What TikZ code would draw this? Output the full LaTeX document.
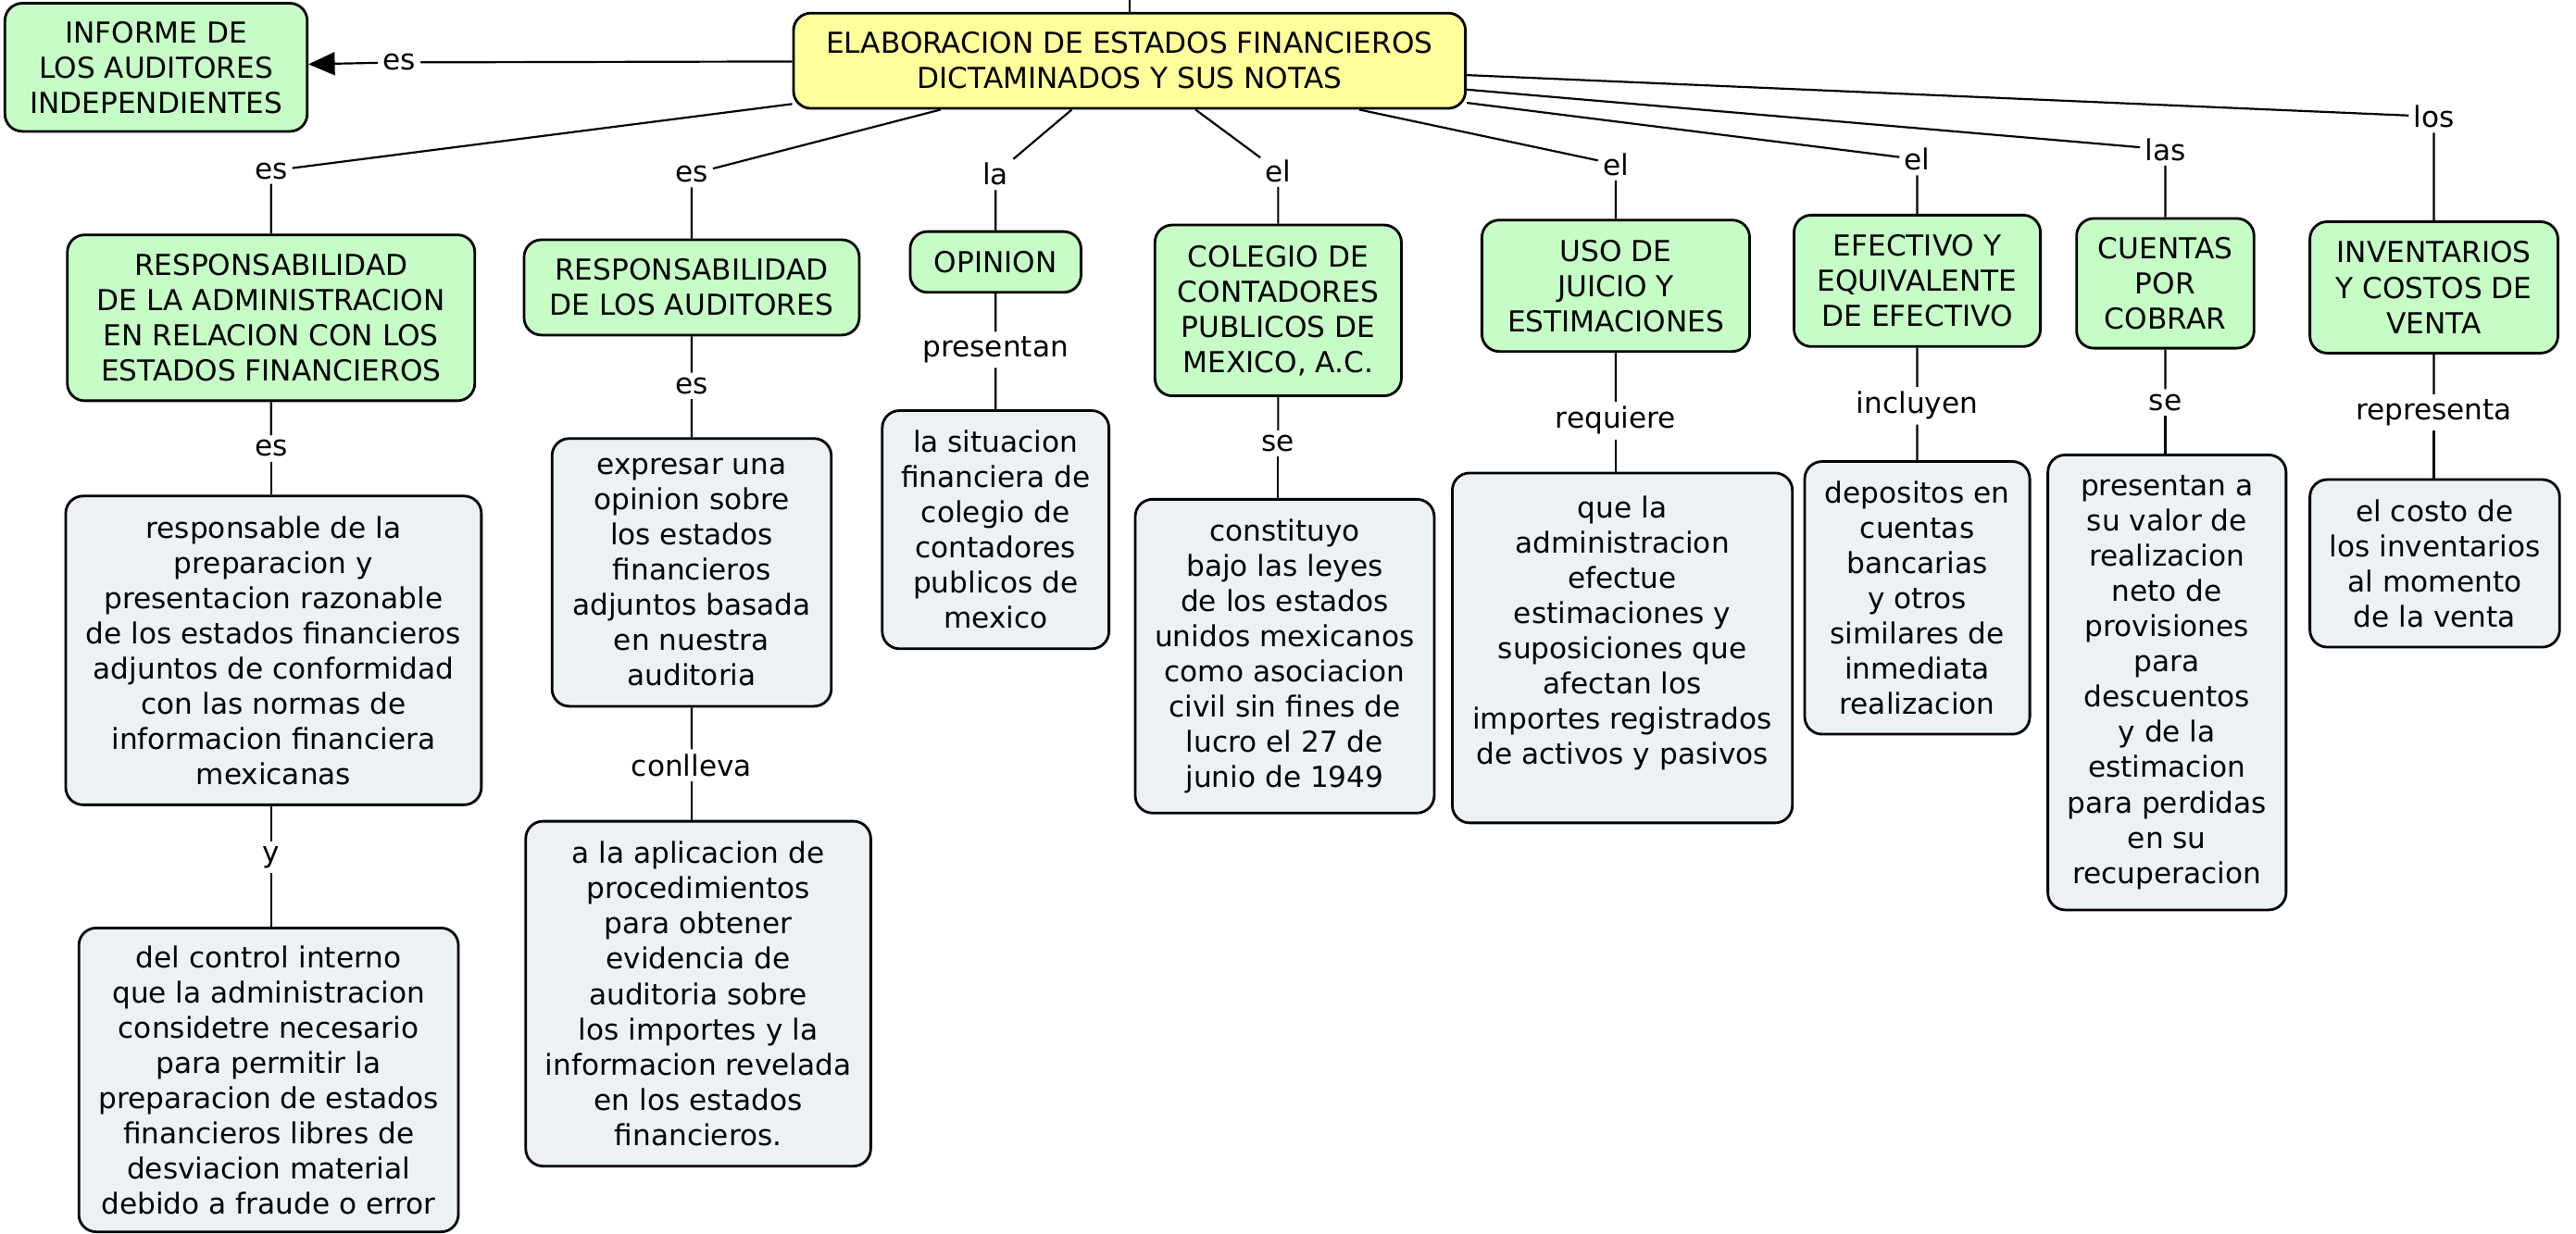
\documentclass[tikz,border=0pt]{standalone}
\usepackage{fontspec}
\setmainfont{DejaVu Sans}
\usepackage{xcolor}
\usetikzlibrary{arrows.meta,positioning}

\definecolor{cgreen}{RGB}{198,252,198}
\definecolor{cyellow}{RGB}{255,255,155}
\definecolor{cgray}{RGB}{236,241,244}

\begin{document}
\begin{tikzpicture}[
    concept/.style={rectangle, draw, line width=0.9pt, fill=cgreen, rounded corners=6pt, align=center, inner sep=2pt, font=\fontsize{10}{12.2}\selectfont},
    mainconcept/.style={concept, fill=cyellow},
    detail/.style={concept, fill=cgray},
    lbl/.style={fill=white, inner sep=1.5pt, font=\fontsize{10}{12}\selectfont},
    conn/.style={line width=0.7pt}
]

\useasboundingbox (0,0) rectangle (31.36,15.02);

% Main concept
\node[mainconcept, minimum width=8.18cm, minimum height=1.16cm] (main) at (13.75,14.28) {ELABORACION DE ESTADOS FINANCIEROS\\DICTAMINADOS Y SUS NOTAS};
\coordinate (top) at (13.75,15.4);
\node[concept, minimum width=3.68cm, minimum height=1.56cm] (informe) at (1.9,14.2) {INFORME DE\\LOS AUDITORES\\INDEPENDIENTES};
\node[lbl] (esI) at (4.86,14.26) {es};

% First level links
\node[lbl] (esA) at (3.3,12.94) {es};
\node[lbl] (esB) at (8.42,12.9) {es};
\node[lbl] (la) at (12.12,12.9) {la};
\node[lbl] (elA) at (15.56,12.94) {el};
\node[lbl] (elB) at (19.67,13.02) {el};
\node[lbl] (elC) at (23.34,13.08) {el};
\node[lbl] (las) at (26.36,13.2) {las};
\node[lbl] (los) at (29.63,13.6) {los};

% First level concepts
\node[concept, minimum width=4.96cm, minimum height=2.02cm] (respadm) at (3.3,11.15) {RESPONSABILIDAD\\DE LA ADMINISTRACION\\EN RELACION CON LOS\\ESTADOS FINANCIEROS};
\node[concept, minimum width=4.08cm, minimum height=1.16cm] (respaud) at (8.42,11.52) {RESPONSABILIDAD\\DE LOS AUDITORES};
\node[concept, minimum width=2.08cm, minimum height=0.74cm] (opinion) at (12.12,11.83) {OPINION};
\node[concept, minimum width=3.0cm, minimum height=2.08cm] (colegio) at (15.56,11.24) {COLEGIO DE\\CONTADORES\\PUBLICOS DE\\MEXICO, A.C.};
\node[concept, minimum width=3.26cm, minimum height=1.6cm] (uso) at (19.67,11.54) {USO DE\\JUICIO Y\\ESTIMACIONES};
\node[concept, minimum width=3.0cm, minimum height=1.6cm] (efectivo) at (23.34,11.6) {EFECTIVO Y\\EQUIVALENTE\\DE EFECTIVO};
\node[concept, minimum width=2.16cm, minimum height=1.58cm] (cuentas) at (26.36,11.57) {CUENTAS\\POR\\COBRAR};
\node[concept, minimum width=3.02cm, minimum height=1.6cm] (inventarios) at (29.63,11.52) {INVENTARIOS\\Y COSTOS DE\\VENTA};

% Second level links
\node[lbl] (esC) at (3.3,9.56) {es};
\node[lbl] (esD) at (8.42,10.32) {es};
\node[lbl] (presentan) at (12.12,10.76) {presentan};
\node[lbl] (seA) at (15.56,9.62) {se};
\node[lbl] (requiere) at (19.67,9.9) {requiere};
\node[lbl] (incluyen) at (23.34,10.08) {incluyen};
\node[lbl] (seB) at (26.36,10.12) {se};
\node[lbl] (representa) at (29.63,10.0) {representa};

% Second level details
\node[detail, minimum width=5.06cm, minimum height=3.76cm] (respdet) at (3.33,7.1) {responsable de la\\preparacion y\\presentacion razonable\\de los estados financieros\\adjuntos de conformidad\\con las normas de\\informacion financiera\\mexicanas};
\node[detail, minimum width=3.4cm, minimum height=3.26cm] (expresar) at (8.42,8.05) {expresar una\\opinion sobre\\los estados\\financieros\\adjuntos basada\\en nuestra\\auditoria};
\node[detail, minimum width=2.76cm, minimum height=2.9cm] (situacion) at (12.12,8.57) {la situacion\\financiera de\\colegio de\\contadores\\publicos de\\mexico};
\node[detail, minimum width=3.64cm, minimum height=3.82cm] (constituyo) at (15.64,7.03) {constituyo\\bajo las leyes\\de los estados\\unidos mexicanos\\como asociacion\\civil sin fines de\\lucro el 27 de\\junio de 1949};
\node[detail, minimum width=4.14cm, minimum height=4.26cm] (quela) at (19.75,7.13) {que la\\administracion\\efectue\\estimaciones y\\suposiciones que\\afectan los\\importes registrados\\de activos y pasivos\\[0cm]};
\node[detail, minimum width=2.74cm, minimum height=3.32cm] (depositos) at (23.34,7.74) {depositos en\\cuentas\\bancarias\\y otros\\similares de\\inmediata\\realizacion};
\node[detail, minimum width=2.9cm, minimum height=5.54cm] (presentana) at (26.38,6.71) {presentan a\\su valor de\\realizacion\\neto de\\provisiones\\para\\descuentos\\y de la\\estimacion\\para perdidas\\en su\\recuperacion};
\node[detail, minimum width=3.04cm, minimum height=2.04cm] (costo) at (29.64,8.16) {el costo de\\los inventarios\\al momento\\de la venta};

% Third level
\node[lbl] (y) at (3.3,4.58) {y};
\node[detail, minimum width=4.62cm, minimum height=3.7cm] (control) at (3.27,1.87) {del control interno\\que la administracion\\considetre necesario\\para permitir la\\preparacion de estados\\financieros libres de\\desviacion material\\debido a fraude o error};
\node[lbl] (conlleva) at (8.42,5.7) {conlleva};
\node[detail, minimum width=4.2cm, minimum height=4.2cm] (aplicacion) at (8.5,2.92) {a la aplicacion de\\procedimientos\\para obtener\\evidencia de\\auditoria sobre\\los importes y la\\informacion revelada\\en los estados\\financieros.};

% Connectors
\draw[conn] (main) -- (top);
\draw[conn] (main) -- (esI);
\draw[conn, -{Triangle[length=0.32cm, width=0.28cm]}] (esI) -- (informe);
\draw[conn] (main) -- (esA) -- (respadm) -- (esC);
\draw[conn] (esC) -- (esC |- respdet.north);
\draw[conn] (respdet.south -| y) -- (y) -- (y |- control.north);
\draw[conn] (main) -- (esB) -- (respaud) -- (esD) -- (expresar) -- (conlleva);
\draw[conn] (conlleva) -- (conlleva |- aplicacion.north);
\draw[conn] (main) -- (la) -- (opinion) -- (presentan) -- (situacion);
\draw[conn] (main) -- (elA) -- (colegio) -- (seA);
\draw[conn] (seA) -- (seA |- constituyo.north);
\draw[conn] (main) -- (elB) -- (uso) -- (requiere);
\draw[conn] (requiere) -- (requiere |- quela.north);
\draw[conn] (main) -- (elC) -- (efectivo) -- (incluyen) -- (depositos);
\draw[conn] (main) -- (las) -- (cuentas) -- (seB);
\draw[conn] (seB) -- (seB |- presentana.north);
\draw[conn] (main) -- (los) -- (inventarios) -- (representa);
\draw[conn] (representa) -- (representa |- costo.north);

\end{tikzpicture}
\end{document}
